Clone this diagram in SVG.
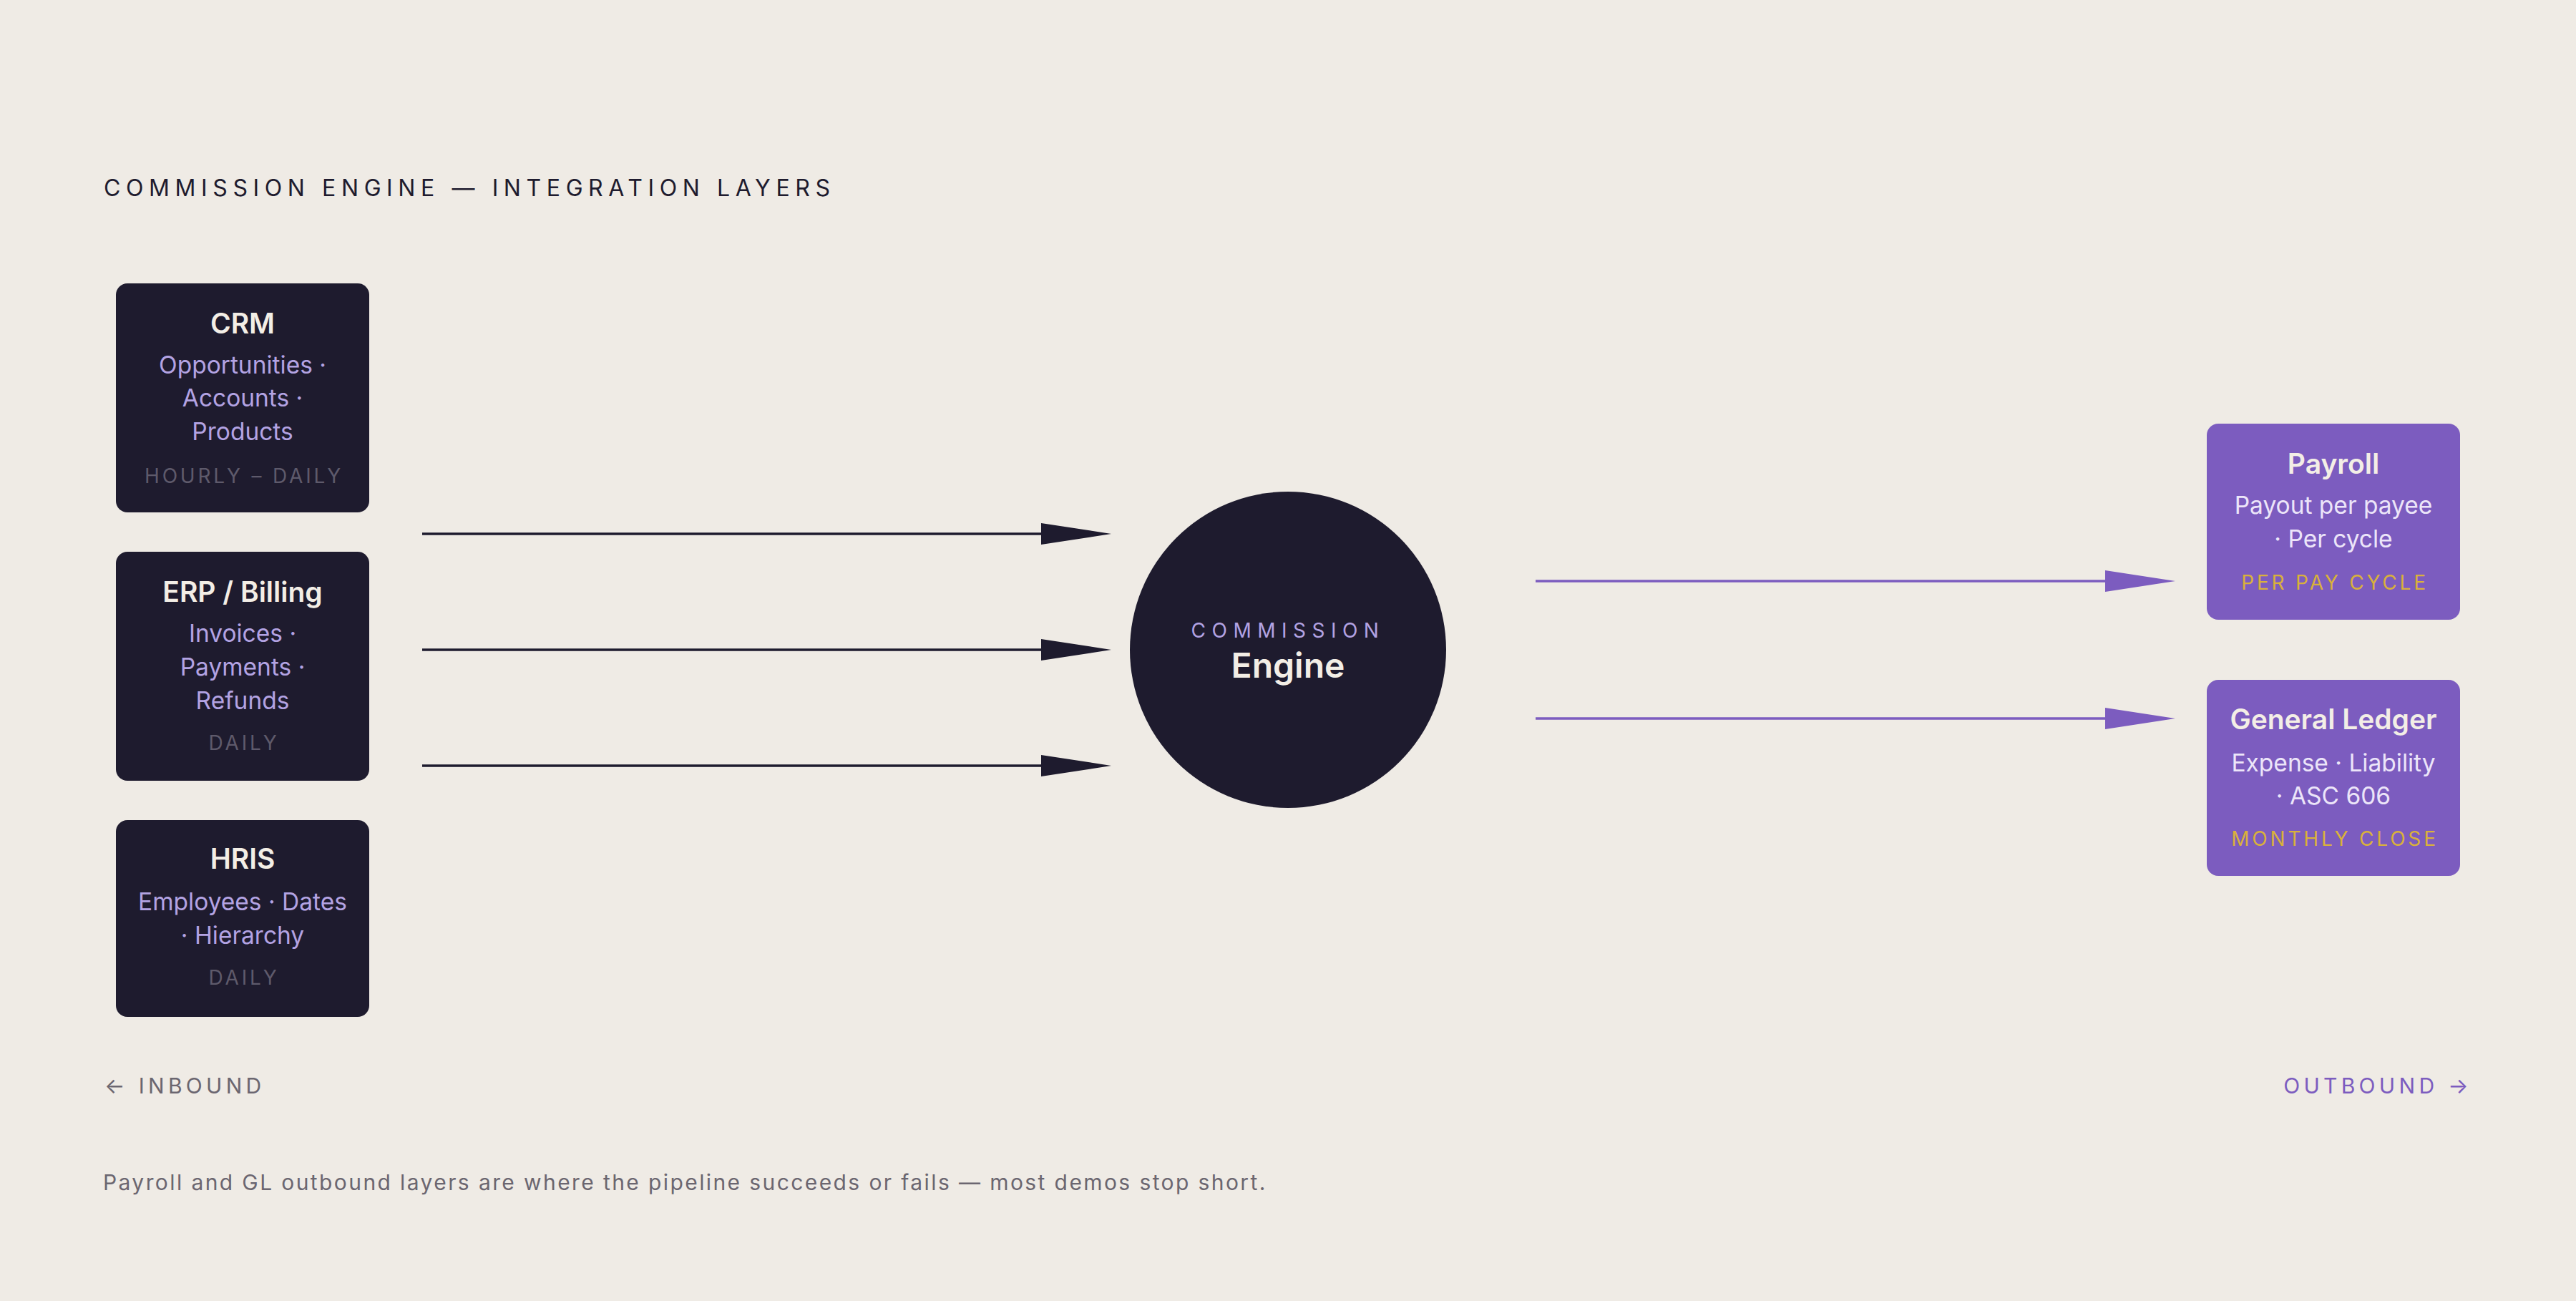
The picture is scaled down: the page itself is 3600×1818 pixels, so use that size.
<svg xmlns="http://www.w3.org/2000/svg" width="3600" height="1818" viewBox="0 0 3600 1818">
  <defs>
    <style>
      text { font-family: Inter, "Noto Sans", "Liberation Sans", sans-serif; }
      .heading { font-size: 32px; font-weight: 400; fill: #1E1B2E; letter-spacing: 7.6px; }
      .box-dark { fill: #1E1B2E; }
      .box-purple { fill: #7C5CBF; }
      .ttl { font-size: 39px; font-weight: 600; fill: #F3EEE6; text-anchor: middle; }
      .sub-dark { font-size: 33.5px; font-weight: 400; fill: #B3A3E3; text-anchor: middle; }
      .sub-purple { font-size: 33.5px; font-weight: 400; fill: #ECE5F9; text-anchor: middle; }
      .freq-dark { font-size: 28px; font-weight: 400; fill: #5E5A6B; text-anchor: middle; letter-spacing: 3.8px; }
      .freq-gold { font-size: 28px; font-weight: 400; fill: #D9B13B; text-anchor: middle; letter-spacing: 3.8px; }
      .eng-small { font-size: 28px; font-weight: 400; fill: #B3A3E3; text-anchor: middle; letter-spacing: 8.5px; }
      .eng-big { font-size: 48px; font-weight: 600; fill: #F3EEE6; text-anchor: middle; }
      .side { font-size: 30px; font-weight: 400; letter-spacing: 5.3px; }
      .note { font-size: 30px; font-weight: 400; fill: #6B6670; letter-spacing: 2.4px; }
      .in-line { stroke: #1E1B2E; stroke-width: 3.5; fill: none; }
      .out-line { stroke: #7C5CBF; stroke-width: 3.5; fill: none; }
    </style>
    <marker id="arrow-dark" markerUnits="userSpaceOnUse" markerWidth="100" markerHeight="32" refX="5" refY="15" orient="auto">
      <path d="M0,0 L98,15 L0,30 Z" fill="#1E1B2E"/>
    </marker>
    <marker id="arrow-purple" markerUnits="userSpaceOnUse" markerWidth="100" markerHeight="32" refX="5" refY="15" orient="auto">
      <path d="M0,0 L98,15 L0,30 Z" fill="#7C5CBF"/>
    </marker>
  </defs>

  <rect x="0" y="0" width="3600" height="1818" fill="#EFEBE5"/>

  <text class="heading" x="145" y="274">COMMISSION ENGINE — INTEGRATION LAYERS</text>

  <g id="connectors">
    <line class="in-line" x1="590" y1="746" x2="1460" y2="746" marker-end="url(#arrow-dark)"/>
    <line class="in-line" x1="590" y1="908" x2="1460" y2="908" marker-end="url(#arrow-dark)"/>
    <line class="in-line" x1="590" y1="1070" x2="1460" y2="1070" marker-end="url(#arrow-dark)"/>
    <line class="out-line" x1="2146" y1="812" x2="2947" y2="812" marker-end="url(#arrow-purple)"/>
    <line class="out-line" x1="2146" y1="1004" x2="2947" y2="1004" marker-end="url(#arrow-purple)"/>
  </g>

  <g id="crm">
    <rect class="box-dark" x="162" y="396" width="354" height="320" rx="16"/>
    <text class="ttl" x="339" y="466">CRM</text>
    <text class="sub-dark" x="339" y="522">Opportunities ·</text>
    <text class="sub-dark" x="339" y="568">Accounts ·</text>
    <text class="sub-dark" x="339" y="615">Products</text>
    <text class="freq-dark" x="341" y="675">HOURLY – DAILY</text>
  </g>

  <g id="erp">
    <rect class="box-dark" x="162" y="771" width="354" height="320" rx="16"/>
    <text class="ttl" x="339" y="841">ERP / Billing</text>
    <text class="sub-dark" x="339" y="897">Invoices ·</text>
    <text class="sub-dark" x="339" y="944">Payments ·</text>
    <text class="sub-dark" x="339" y="991">Refunds</text>
    <text class="freq-dark" x="341" y="1048">DAILY</text>
  </g>

  <g id="hris">
    <rect class="box-dark" x="162" y="1146" width="354" height="275" rx="16"/>
    <text class="ttl" x="339" y="1214">HRIS</text>
    <text class="sub-dark" x="339" y="1272">Employees · Dates</text>
    <text class="sub-dark" x="339" y="1319">· Hierarchy</text>
    <text class="freq-dark" x="341" y="1376">DAILY</text>
  </g>

  <g id="engine">
    <circle cx="1800" cy="908" r="221" fill="#1E1B2E"/>
    <text class="eng-small" x="1800" y="891">COMMISSION</text>
    <text class="eng-big" x="1800" y="947">Engine</text>
  </g>

  <g id="payroll">
    <rect class="box-purple" x="3084" y="592" width="354" height="274" rx="16"/>
    <text class="ttl" x="3261" y="662">Payroll</text>
    <text class="sub-purple" x="3261" y="718">Payout per payee</text>
    <text class="sub-purple" x="3261" y="765">· Per cycle</text>
    <text class="freq-gold" x="3263" y="824">PER PAY CYCLE</text>
  </g>

  <g id="gl">
    <rect class="box-purple" x="3084" y="950" width="354" height="274" rx="16"/>
    <text class="ttl" x="3261" y="1019">General Ledger</text>
    <text class="sub-purple" x="3261" y="1078">Expense · Liability</text>
    <text class="sub-purple" x="3261" y="1124">· ASC 606</text>
    <text class="freq-gold" x="3263" y="1182">MONTHLY CLOSE</text>
  </g>

  <text class="side" x="146" y="1528" fill="#6B6670">← INBOUND</text>
  <text class="side" x="3455" y="1528" fill="#7C5CBF" text-anchor="end">OUTBOUND →</text>

  <text class="note" x="144" y="1663">Payroll and GL outbound layers are where the pipeline succeeds or fails — most demos stop short.</text>
</svg>
